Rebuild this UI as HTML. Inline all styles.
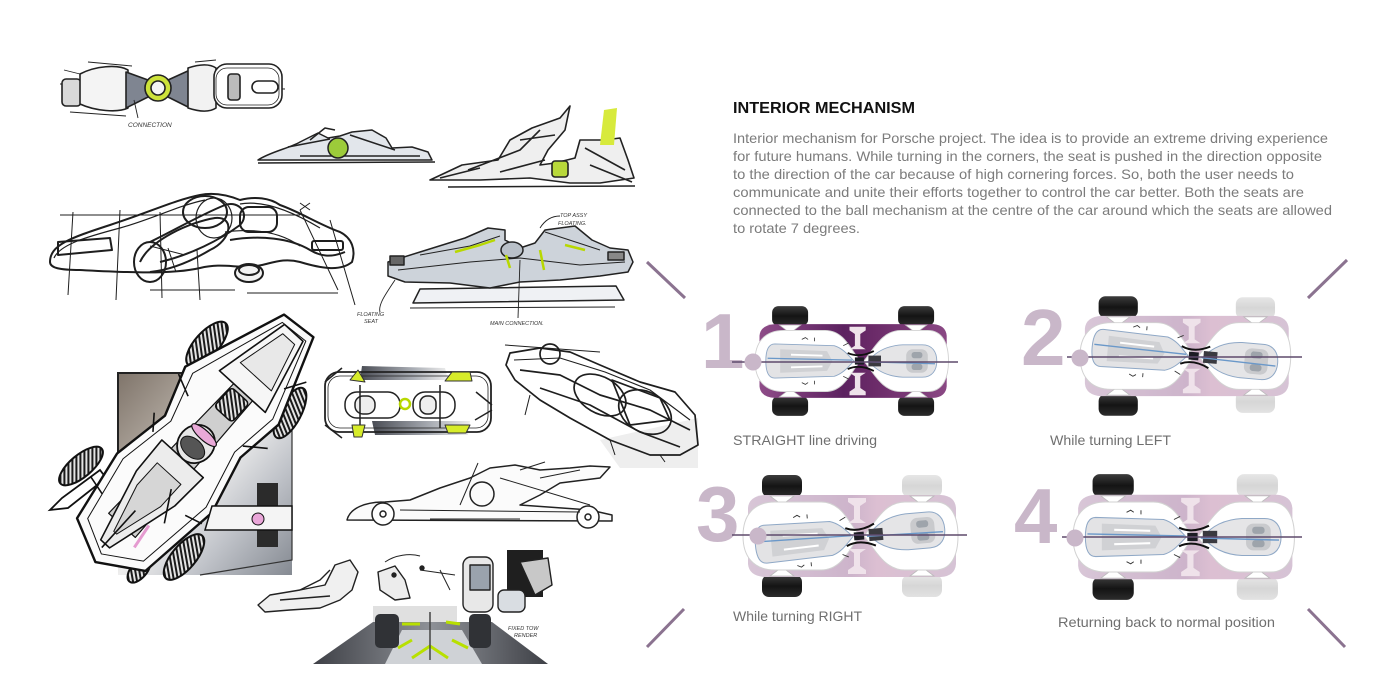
<!DOCTYPE html>
<html><head><meta charset="utf-8"><style>
html,body{margin:0;padding:0;background:#fff;}
svg{display:block;}
</style></head><body>
<svg width="1400" height="700" viewBox="0 0 1400 700" xmlns="http://www.w3.org/2000/svg">
<defs>
 <pattern id="hatch" width="4" height="4" patternUnits="userSpaceOnUse" patternTransform="rotate(40)">
   <rect width="4" height="4" fill="#e4e4e4"/><rect width="2" height="4" fill="#1a1a1a"/>
 </pattern>
 <linearGradient id="bgF" x1="0" y1="0" x2="1" y2="1">
  <stop offset="0" stop-color="#7f746a"/><stop offset="0.3" stop-color="#b3aba2"/>
  <stop offset="0.5" stop-color="#eeeeee"/><stop offset="0.72" stop-color="#c0c3c9"/>
  <stop offset="1" stop-color="#858a92"/>
 </linearGradient>
 <linearGradient id="tireD" x1="0" y1="0" x2="0" y2="1">
  <stop offset="0" stop-color="#3c3c3c"/><stop offset="0.5" stop-color="#141414"/><stop offset="1" stop-color="#2c2c2c"/>
 </linearGradient>
 <linearGradient id="tireL" x1="0" y1="0" x2="0" y2="1">
  <stop offset="0" stop-color="#e6e6e6"/><stop offset="0.5" stop-color="#d6d6d6"/><stop offset="1" stop-color="#e2e2e2"/>
 </linearGradient>
 <linearGradient id="purpD" x1="0" y1="0" x2="1" y2="0">
  <stop offset="0" stop-color="#8e4c88"/><stop offset="0.45" stop-color="#5c2260"/>
  <stop offset="0.6" stop-color="#6a2a68"/><stop offset="1" stop-color="#8a4884"/>
 </linearGradient>
 <linearGradient id="purpL" x1="0" y1="0" x2="1" y2="0">
  <stop offset="0" stop-color="#d8c6d7"/><stop offset="0.5" stop-color="#cdb4cb"/>
  <stop offset="0.62" stop-color="#dcbfd2"/><stop offset="1" stop-color="#d6c3d5"/>
 </linearGradient>
 <linearGradient id="gstreak" x1="0" y1="0" x2="1" y2="0">
  <stop offset="0" stop-color="#4a4d55"/><stop offset="0.6" stop-color="#a9adb4"/><stop offset="1" stop-color="#eeeeee"/>
 </linearGradient>
 <linearGradient id="floorG" x1="0" y1="0" x2="1" y2="0">
  <stop offset="0" stop-color="#3e4046"/><stop offset="0.5" stop-color="#8e9197"/><stop offset="1" stop-color="#3e4046"/>
 </linearGradient>

 <g id="arms" fill="#fff" stroke="#bbb" stroke-width="0.8">
  <polygon points="27,-40 51,-40 39,-31"/>
  <polygon points="27,40 51,40 39,31"/>
  <polygon points="167,-40 191,-40 179,-31"/>
  <polygon points="167,40 191,40 179,31"/>
 </g>
 <g id="pods">
  <path d="M32,-34 L78,-34 C94,-34 102,-22 111,-8 L117,0 L111,8 C102,22 94,34 78,34 L32,34 C10,34 0,20 0,0 C0,-20 10,-34 32,-34Z" fill="#fff" stroke="#d2d2d2" stroke-width="1"/>
  <path d="M121,0 L127,-8 C137,-22 146,-34 162,-34 L192,-34 C208,-34 215,-20 215,0 C215,20 208,34 192,34 L162,34 C146,34 137,22 127,8Z" fill="#fff" stroke="#d2d2d2" stroke-width="1"/>
 </g>
 <g id="Ishape" fill="#efe2ea">
  <path d="M105,-38 L123,-38 L123,-34 L117,-30 L117,-17 L123,-13 L105,-13 L111,-17 L111,-30 L105,-34Z"/>
  <path d="M105,38 L123,38 L123,34 L117,30 L117,17 L123,13 L105,13 L111,17 L111,30 L105,34Z"/>
 </g>
 <g id="seats">
  <path d="M22,-19 L88,-17 C98,-14 104,-6 110,0 C104,6 98,14 88,17 L22,19 C15,19 12,12 12,0 C12,-12 15,-19 22,-19Z" fill="#e3e3e5" stroke="#8fa8c6" stroke-width="1"/>
  <path d="M28,-13 L80,-11 L86,0 L80,11 L28,13 Z" fill="#d0d1d4"/>
  <path d="M40,-7 L75,-6 M40,7 L75,6" stroke="#fff" stroke-width="2"/>
  <path d="M126,0 C134,-10 146,-17 164,-18 L186,-18 C197,-18 202,-10 202,0 C202,10 197,18 186,18 L164,18 C146,17 134,10 126,0Z" fill="#e5e5e7" stroke="#8fa8c6" stroke-width="1"/>
  <rect x="168" y="-13" width="24" height="26" rx="7" fill="#c9cacd"/>
  <rect x="174" y="-10" width="12" height="7" rx="3" fill="#9ea4ab"/>
  <rect x="174" y="3" width="12" height="7" rx="3" fill="#9ea4ab"/>
  <path d="M103,-9 Q116,-3 132,-11 M103,9 Q116,3 132,11" stroke="#111" stroke-width="2" fill="none"/>
  <rect x="111" y="-4" width="10" height="8" fill="#1c1c24"/>
  <path d="M126,-6 L140,-6 L140,6 L126,6Z" fill="#3a3a40"/>
  <path d="M14,-3 L108,-1 M124,1 L200,3" stroke="#6a98c9" stroke-width="1.4" fill="none"/>
  <path d="M52,-24 l4,-2 l3,2 M52,24 l4,2 l3,-2 M66,-22 l0,-4 M66,22 l0,4 M98,-17 l6,-3 M98,17 l6,3" stroke="#333" stroke-width="0.9" fill="none"/>
 </g>
</defs>

<rect width="1400" height="700" fill="#fff"/>

<!-- ================= SKETCHES ================= -->
<!-- Sketch A : top view -->
<g stroke="#222" stroke-width="1.6" fill="none" stroke-linejoin="round">
 <path d="M60,84 L285,89 M88,62 L132,66 M70,112 L126,116 M195,62 L216,60 M64,70 L80,74 M90,72 L125,100 M95,105 L125,75" stroke-width="0.9"/>
 <rect x="62" y="79" width="19" height="27" rx="4" fill="#d9d9d9"/>
 <path d="M80,74 C95,66 118,64 128,70 L128,108 C118,113 95,111 80,104 Z" fill="#f4f4f4"/>
 <path d="M126,72 L148,80 L168,80 L190,70 L190,108 L168,97 L148,97 L126,108Z" fill="#7f8591"/>
 <circle cx="158" cy="88" r="13" fill="#cde23a"/>
 <circle cx="158" cy="88" r="7" fill="#f4f4f4"/>
 <path d="M188,68 C200,64 210,64 216,68 L216,108 C210,112 200,112 188,108Z" fill="#f2f2f2"/>
 <rect x="214" y="64" width="68" height="44" rx="13" fill="#fff"/>
 <rect x="216" y="68" width="63" height="37" rx="11" stroke-width="0.8"/>
 <rect x="228" y="74" width="12" height="26" rx="3" fill="#bbb"/>
 <rect x="252" y="81" width="26" height="12" rx="6"/>
 <path d="M134,100 L138,118" stroke-width="0.9"/>
</g>
<text x="128" y="127" font-family="Liberation Sans, sans-serif" font-size="6.5" fill="#333" font-style="italic">CONNECTION</text>

<!-- Sketch B -->
<g stroke="#222" stroke-width="1.5" fill="none" stroke-linejoin="round">
 <path d="M258,160 C270,152 290,148 300,142 L318,133 L328,138 L340,136 L352,132 L372,130 L386,138 L392,148 L412,147 L428,152 L432,160 Z" fill="#e2e6eb"/>
 <path d="M288,147 L330,139 M350,135 L395,150 M300,156 L420,156 M310,140 L325,128 L335,130"/>
 <circle cx="338" cy="148" r="10" fill="#9ccb3a"/>
 <path d="M258,163 L435,162" stroke-width="1.5"/>
</g>

<!-- Sketch C -->
<g stroke="#222" stroke-width="1.6" fill="none" stroke-linejoin="round">
 <path d="M430,180 L462,165 L498,160 L510,140 L532,128 L560,118 L570,106 L565,130 L548,150 L540,165 L555,163 L575,158 L580,140 L605,140 L620,138 L628,160 L634,178 L600,183 L570,183 L530,178 L480,180 Z" fill="#efefef"/>
 <path d="M468,170 L520,150 L540,130 M500,172 L545,160 M520,140 L555,135 M585,148 L625,170 M440,178 L480,168 M590,165 L632,182"/>
 <path d="M600,145 L604,110 L617,108 L614,145 Z" fill="#d7ea3c" stroke="none"/>
 <rect x="552" y="161" width="16" height="16" rx="3" fill="#b8d83a"/>
 <path d="M448,187 L635,186" stroke-width="1.5"/>
</g>

<!-- Sketch D : wireframe -->
<g stroke="#1e1e1e" fill="none" stroke-width="2" stroke-linejoin="round">
 <path d="M50,262 C50,245 70,238 110,225 C150,212 175,200 200,195 C215,192 230,196 240,200 C255,196 270,198 280,205 C300,212 320,225 340,232 C352,238 356,250 352,262 C340,272 320,268 300,262 C285,258 275,262 262,265 C240,270 225,262 200,268 C170,275 120,272 80,270 C60,270 50,268 50,262 Z"/>
 <path d="M54,258 C60,244 90,236 120,228 C150,220 180,205 205,200 M240,204 C262,200 290,210 320,228" stroke-width="1.2"/>
 <path d="M58,242 L110,238 L112,250 L58,255 Z"/>
 <path d="M150,242 C175,230 200,215 225,205 C240,200 250,215 240,225 C220,240 190,255 160,262"/>
 <path d="M140,262 C150,240 190,222 215,218 C235,216 232,240 210,250 C190,262 170,270 150,272"/>
 <ellipse cx="150" cy="262" rx="16" ry="20"/>
 <ellipse cx="205" cy="212" rx="22" ry="16"/>
 <ellipse cx="214" cy="218" rx="18" ry="20" stroke-width="1.2"/>
 <rect x="240" y="207" width="37" height="25" rx="9"/>
 <path d="M230,240 C260,235 290,238 310,250 C320,256 330,258 345,252"/>
 <path d="M225,232 C255,228 280,232 300,246" stroke-width="1.2"/>
 <rect x="312" y="241" width="31" height="9" rx="2"/>
 <ellipse cx="249" cy="273" rx="14" ry="9" fill="#f2f2f2"/>
 <ellipse cx="249" cy="270" rx="10" ry="5"/>
 <path stroke-width="1" d="M150,290 L235,290 M247,293 L338,293 M73,212 L68,295 M120,210 L116,300 M160,212 L162,298 M300,210 L338,290 M197,250 L200,300 M330,220 L355,305 M60,215 L300,215 M300,203 L310,210 M310,203 L300,210 M150,246 L185,255 M168,248 L176,272"/>
</g>

<!-- Sketch E -->
<g stroke="#222" stroke-width="1.5" fill="none" stroke-linejoin="round">
 <polygon points="413,303 624,300 616,286 420,289" fill="#eff1f4"/>
 <path d="M388,262 L420,252 L465,238 L488,228 L505,230 L505,240 L520,248 L535,243 L545,230 L575,226 L592,240 L610,248 L628,250 L633,262 L628,272 L600,276 L560,280 L520,282 L490,288 L450,283 L405,282 L388,276 Z" fill="#cdd3da"/>
 <path d="M398,270 L470,262 L520,258 L580,265 L625,262 M420,255 L470,246 L500,236 M545,232 L600,250" stroke-width="1"/>
 <ellipse cx="512" cy="250" rx="11" ry="8" fill="#b9c0c8"/>
 <rect x="390" y="256" width="14" height="9" fill="#666"/>
 <rect x="608" y="252" width="16" height="8" fill="#888"/>
 <path d="M455,252 L480,245 L495,240 M506,255 L510,268 M540,250 L544,270 M565,245 L585,250" stroke="#b8d800" stroke-width="2.5"/>
 <path d="M410,308 L615,307" stroke-width="1"/>
 <path d="M540,228 C545,220 552,216 560,216 M520,260 L518,318 M395,280 C385,295 378,305 380,312" stroke-width="0.9"/>
</g>
<g font-family="Liberation Sans, sans-serif" font-size="5.5" fill="#333" font-style="italic">
 <text x="560" y="217">TOP ASSY</text>
 <text x="558" y="225">FLOATING.</text>
 <text x="357" y="316">FLOATING</text>
 <text x="364" y="323">SEAT</text>
 <text x="490" y="325">MAIN CONNECTION.</text>
</g>

<!-- Sketch F : big diagonal -->
<rect x="118" y="373" width="174" height="202" fill="url(#bgF)"/>
<path d="M118,470 L118,373 L185,373" stroke="#222" stroke-width="2" fill="none"/>
<path d="M292,400 L292,560 L200,575" stroke="#333" stroke-width="1.2" fill="none"/>
<g stroke="#111" stroke-width="2">
 <ellipse cx="207" cy="344" rx="28" ry="12" transform="rotate(-48 207 344)" fill="url(#hatch)"/>
 <ellipse cx="81" cy="466" rx="27" ry="11" transform="rotate(-40 81 466)" fill="url(#hatch)"/>
 <ellipse cx="290" cy="413" rx="28" ry="11" transform="rotate(-62 290 413)" fill="url(#hatch)"/>
 <ellipse cx="184" cy="557" rx="28" ry="12" transform="rotate(-50 184 557)" fill="url(#hatch)"/>
 <ellipse cx="139" cy="570" rx="15" ry="8" transform="rotate(-50 139 570)" fill="url(#hatch)"/>
</g>
<path d="M50,510 L62,498 L100,470 L106,478 L68,508 Z" fill="#fff" stroke="#111" stroke-width="1.8"/>
<g transform="translate(196,444) rotate(-47.7)" stroke="#111" stroke-linejoin="round">
 <path d="M-155,5 L-135,-38 L-60,-52 L0,-42 L50,-60 L155,-22 L158,15 L70,48 L20,42 L-40,58 L-128,48 Z" fill="#fbfbfb" stroke-width="2.4"/>
 <path d="M-145,4 L-128,-30 L-60,-44 L0,-34 L50,-50 L148,-18 L150,12 L70,40 L20,34 L-40,50 L-122,40 Z" fill="none" stroke-width="1"/>
 <path d="M-110,-18 L95,-12 L95,12 L-110,18 Z" fill="#cfcfcf" stroke-width="1.2"/>
 <path d="M-135,-6 L-60,-26 L-20,-28 L-20,28 L-60,26 L-135,6Z" fill="#ececec" stroke-width="1.6"/>
 <path d="M-120,-2 L-70,-16 L-40,-16 L-40,16 L-70,16 L-120,2Z" fill="#d6d6d6" stroke-width="1"/>
 <ellipse cx="0" cy="0" rx="20" ry="18" fill="#e6e6e6" stroke-width="1.8"/>
 <ellipse cx="-5" cy="0" rx="9" ry="14" fill="#555" stroke-width="1"/>
 <ellipse cx="12" cy="0" rx="5" ry="16" fill="#e9a9d8" stroke-width="1.2"/>
 <rect x="40" y="-12" width="26" height="24" rx="4" fill="url(#hatch)" stroke-width="1.5"/>
 <path d="M70,-32 L148,-15 L148,10 L70,30 Z" fill="#f6f6f6" stroke-width="1.6"/>
 <path d="M90,-22 L140,-10 L140,6 L90,20Z" fill="#e8e8e8" stroke-width="1"/>
 <path d="M-100,-36 L-95,-56 M-60,40 L-55,58 M30,-38 L40,-60 M30,36 L45,56 M-140,0 L-90,0 M-80,30 L-50,12 M-20,-40 L-5,-52 M100,28 L120,40" stroke-width="1.6" fill="none"/>
 <path d="M-118,24 L-92,20" stroke="#e59bd0" stroke-width="3"/>
</g>
<rect x="257" y="483" width="21" height="64" fill="#2b2b2b"/>
<path d="M212,506 L292,506 L292,530 L205,530 Z" fill="#f4f4f4" stroke="#111" stroke-width="1.5"/>
<circle cx="258" cy="519" r="6" fill="#e9a6d8" stroke="#111"/>

<!-- Sketch G : top view car -->
<g stroke="#222" stroke-width="1.5" fill="none" stroke-linejoin="round">
 <path d="M362,366 L445,368 L448,380 L360,380Z" fill="url(#gstreak)" stroke="none"/>
 <path d="M372,421 L470,421 L468,435 L375,435Z" fill="url(#gstreak)" stroke="none"/>
 <rect x="325" y="372" width="166" height="60" rx="14" stroke-width="1.8"/>
 <rect x="328" y="376" width="160" height="52" rx="12" stroke-width="0.8"/>
 <rect x="345" y="392" width="55" height="26" rx="12" fill="#fff"/>
 <rect x="355" y="396" width="20" height="18" rx="8" fill="#eee"/>
 <rect x="413" y="392" width="42" height="26" rx="12" fill="#fff"/>
 <rect x="420" y="396" width="16" height="18" rx="7" fill="#eee"/>
 <circle cx="405" cy="404" r="5" stroke="#b8d800" stroke-width="2.5"/>
 <path d="M325,382 L342,368 M325,425 L342,438 M476,392 L492,405 M475,420 L492,410 M360,385 L360,428 M440,385 L440,428"/>
 <path d="M350,380 L358,370 L365,382Z M445,381 L452,372 L470,372 L472,381Z M352,425 L365,425 L362,437 L354,437Z M445,425 L470,425 L466,433 L448,433Z" fill="#d7ec2a" stroke="#333" stroke-width="1"/>
</g>

<!-- Sketch H : perspective wireframe -->
<path d="M600,440 L698,418 L698,468 L620,468 Z" fill="#eeeeee"/>
<g stroke="#1e1e1e" stroke-width="1.7" fill="none" stroke-linejoin="round">
 <path d="M510,353 L540,348 L570,352 L600,365 L640,382 L675,392 L695,415 L698,445 L680,455 L650,455 L610,440 L570,418 L540,400 L515,380 L506,365 Z"/>
 <path d="M514,360 L560,358 L605,372 L650,390 L690,420" stroke-width="1.1"/>
 <path d="M520,370 L560,375 L600,395 L650,410 L690,430"/>
 <path d="M540,388 L590,405 L640,432 L680,447"/>
 <circle cx="550" cy="354" r="10"/>
 <ellipse cx="600" cy="395" rx="28" ry="18" transform="rotate(30 600 395)"/>
 <ellipse cx="645" cy="412" rx="28" ry="20" transform="rotate(30 645 412)"/>
 <path d="M612,380 L660,398 L670,420 L630,425 Z"/>
 <path d="M505,345 L600,352 M530,395 L525,415 M610,440 L615,455 M660,455 L665,462" stroke-width="1"/>
</g>

<!-- Sketch I : side with wheels -->
<g stroke="#222" stroke-width="1.5" fill="none" stroke-linejoin="round">
 <path d="M347,520 C350,508 365,502 385,502 L410,500 L440,488 L470,478 L490,468 L515,465 L540,470 L570,468 L590,466 L610,467 L600,478 L560,483 L540,495 L520,505 L590,510 L612,515 L612,521 Z" fill="#fbfbfb"/>
 <circle cx="383" cy="514" r="11" fill="#fff"/>
 <circle cx="383" cy="514" r="3"/>
 <circle cx="588" cy="517" r="11" fill="#fff"/>
 <circle cx="588" cy="517" r="3"/>
 <circle cx="482" cy="494" r="12"/>
 <path d="M460,505 L475,470 L478,463 M430,519 L520,519 M400,510 L580,512 M500,478 L590,505 M540,478 L580,470 M520,470 L545,462" stroke-width="1"/>
</g>

<!-- Sketch J : bottom interior -->
<rect x="507" y="550" width="36" height="47" fill="#1f1f1f"/>
<g stroke="#222" stroke-width="1.4" fill="none" stroke-linejoin="round">
 <path d="M258,605 L270,595 L300,590 L325,585 L335,565 L350,560 L358,572 L352,590 L340,600 L320,608 L290,610 L265,612Z" fill="#f0f0f0"/>
 <path d="M300,590 L320,580 L330,570 M280,600 L330,596"/>
 <path d="M378,572 L395,566 L405,580 L410,598 L395,600 L380,590Z" fill="#ececec"/>
 <rect x="463" y="557" width="30" height="55" rx="8" fill="#e8e8e8"/>
 <rect x="470" y="565" width="20" height="25" fill="#9aa3ad"/>
 <path d="M520,562 L548,558 L552,585 L535,595 Z" fill="#c8c8c8"/>
 <rect x="498" y="590" width="27" height="22" rx="6" fill="#d9dde2"/>
 <path d="M385,562 C395,555 410,553 420,556 M420,570 L455,575 M440,570 L450,590" stroke-width="1"/>
 <circle cx="394" cy="575" r="2" fill="#222"/>
 <circle cx="422" cy="568" r="2" fill="#222"/>
</g>
<rect x="373" y="606" width="84" height="16" fill="#e0e0e0"/>
<path d="M313,664 L373,622 L492,622 L548,664 Z" fill="url(#floorG)"/>
<path d="M385,664 L402,630 L462,630 L482,664 Z" fill="#cfd2d6"/>
<rect x="375" y="614" width="24" height="34" rx="5" fill="#303236"/>
<rect x="469" y="614" width="22" height="34" rx="5" fill="#303236"/>
<path d="M398,648 L412,640 M452,640 L468,648 M412,658 L430,646 L448,658 M402,624 L420,624 M446,622 L460,624" stroke="#b8e000" stroke-width="3" fill="none"/>
<path d="M430,612 L430,660" stroke="#444" stroke-width="1.5"/>
<g font-family="Liberation Sans, sans-serif" font-size="5.5" fill="#333" font-style="italic">
 <text x="508" y="630">FIXED TOW</text>
 <text x="514" y="637">RENDER</text>
</g>

<!-- ================= DIAGONALS ================= -->
<g stroke="#8b7390" stroke-width="3">
 <line x1="647" y1="262" x2="685" y2="298"/>
 <line x1="1308" y1="298" x2="1347" y2="260"/>
 <line x1="647" y1="647" x2="684" y2="609"/>
 <line x1="1308" y1="609" x2="1345" y2="647"/>
</g>

<!-- ================= TEXT ================= -->
<text x="733" y="113" font-family="Liberation Sans, sans-serif" font-weight="bold" font-size="16" fill="#111" textLength="182" lengthAdjust="spacingAndGlyphs">INTERIOR MECHANISM</text>
<g font-family="Liberation Sans, sans-serif" font-size="14" fill="#7b7b7b">
 <text x="733" y="143" textLength="595" lengthAdjust="spacingAndGlyphs">Interior mechanism for Porsche project. The idea is to provide an extreme driving experience</text>
 <text x="733" y="161" textLength="589" lengthAdjust="spacingAndGlyphs">for future humans. While turning in the corners, the seat is pushed in the direction opposite</text>
 <text x="733" y="179" textLength="561" lengthAdjust="spacingAndGlyphs">to the direction of the car because of high cornering forces. So, both the user needs to</text>
 <text x="733" y="197" textLength="571" lengthAdjust="spacingAndGlyphs">communicate and unite their efforts together to control the car better. Both the seats are</text>
 <text x="733" y="215" textLength="599" lengthAdjust="spacingAndGlyphs">connected to the ball mechanism at the centre of the car around which the seats are allowed</text>
 <text x="733" y="233" textLength="127" lengthAdjust="spacingAndGlyphs">to rotate 7 degrees.</text>
</g>
<g font-family="Liberation Sans, sans-serif" font-size="14" fill="#6f6f6f">
 <text x="733" y="445" textLength="144" lengthAdjust="spacingAndGlyphs">STRAIGHT line driving</text>
 <text x="1050" y="445" textLength="121" lengthAdjust="spacingAndGlyphs">While turning LEFT</text>
 <text x="733" y="621" textLength="129" lengthAdjust="spacingAndGlyphs">While turning RIGHT</text>
 <text x="1058" y="627" textLength="217" lengthAdjust="spacingAndGlyphs">Returning back to normal position</text>
</g>

<!-- ================= NUMBERS ================= -->
<g font-family="Liberation Sans, sans-serif" font-weight="bold" fill="#c9b7c9">
 <text x="701" y="368" font-size="78">1</text>
 <text x="1021" y="365" font-size="80">2</text>
 <text x="696" y="541" font-size="78">3</text>
 <text x="1014" y="543" font-size="78">4</text>
</g>

<!-- ================= CARS ================= -->
<!-- Car 1 -->
<g transform="translate(755,361) scale(0.9)">
 <rect x="19" y="-61" width="40" height="22" rx="7" fill="url(#tireD)"/>
 <rect x="19" y="39" width="40" height="22" rx="7" fill="url(#tireD)"/>
 <rect x="159" y="-61" width="40" height="22" rx="7" fill="url(#tireD)"/>
 <rect x="159" y="39" width="40" height="22" rx="7" fill="url(#tireD)"/>
 <path d="M22,-41 L198,-41 Q212,-40 213,-28 L213,28 Q212,40 198,41 L22,41 Q6,40 5,28 L5,-28 Q6,-40 22,-41Z" fill="url(#purpD)"/>
 <use href="#arms"/>
 <use href="#pods"/>
 <use href="#Ishape"/>
 <use href="#seats"/>
</g>
<!-- Car 2 -->
<g transform="translate(1080,356) scale(0.98)">
 <rect x="19" y="-61" width="40" height="22" rx="7" fill="url(#tireD)"/>
 <rect x="19" y="39" width="40" height="22" rx="7" fill="url(#tireD)"/>
 <rect x="159" y="-60" width="40" height="22" rx="7" fill="url(#tireL)"/>
 <rect x="159" y="36" width="40" height="22" rx="7" fill="url(#tireL)"/>
 <path d="M22,-41 L198,-41 Q212,-40 213,-28 L213,28 Q212,40 198,41 L22,41 Q6,40 5,28 L5,-28 Q6,-40 22,-41Z" fill="url(#purpL)"/>
 <use href="#arms"/>
 <use href="#pods"/>
 <use href="#Ishape"/>
 <g transform="rotate(5 116 0)"><use href="#seats"/></g>
</g>
<!-- Car 3 -->
<g transform="translate(743,536)">
 <rect x="19" y="-61" width="40" height="22" rx="7" fill="url(#tireD)"/>
 <rect x="19" y="39" width="40" height="22" rx="7" fill="url(#tireD)"/>
 <rect x="159" y="-61" width="40" height="22" rx="7" fill="url(#tireL)"/>
 <rect x="159" y="39" width="40" height="22" rx="7" fill="url(#tireL)"/>
 <path d="M22,-41 L198,-41 Q212,-40 213,-28 L213,28 Q212,40 198,41 L22,41 Q6,40 5,28 L5,-28 Q6,-40 22,-41Z" fill="url(#purpL)"/>
 <use href="#arms"/>
 <use href="#pods"/>
 <use href="#Ishape"/>
 <g transform="rotate(-5 116 0)"><use href="#seats"/></g>
</g>
<!-- Car 4 -->
<g transform="translate(1073,537) scale(1.03)">
 <rect x="19" y="-61" width="40" height="22" rx="7" fill="url(#tireD)"/>
 <rect x="19" y="39" width="40" height="22" rx="7" fill="url(#tireD)"/>
 <rect x="159" y="-61" width="40" height="22" rx="7" fill="url(#tireL)"/>
 <rect x="159" y="39" width="40" height="22" rx="7" fill="url(#tireL)"/>
 <path d="M22,-41 L198,-41 Q212,-40 213,-28 L213,28 Q212,40 198,41 L22,41 Q6,40 5,28 L5,-28 Q6,-40 22,-41Z" fill="url(#purpL)"/>
 <use href="#arms"/>
 <use href="#pods"/>
 <use href="#Ishape"/>
 <use href="#seats"/>
</g>

<!-- center lines and dots -->
<g stroke="#5e4a6c" stroke-width="1.5">
 <line x1="732" y1="362" x2="958" y2="362"/>
 <line x1="1067" y1="357" x2="1302" y2="357"/>
 <line x1="732" y1="535" x2="967" y2="535"/>
 <line x1="1062" y1="537" x2="1302" y2="537"/>
</g>
<g fill="#c9b7c9">
 <circle cx="753" cy="362" r="8.5"/>
 <circle cx="1080" cy="358" r="8.5"/>
 <circle cx="758" cy="536" r="8.5"/>
 <circle cx="1075" cy="538" r="8.5"/>
</g>
</svg>
</body></html>
